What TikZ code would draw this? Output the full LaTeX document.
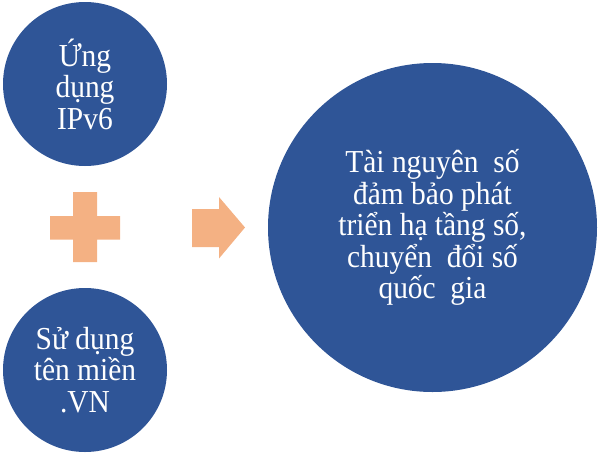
\documentclass[tikz,border=0pt]{standalone}
\usepackage{fontspec}
\setmainfont{Liberation Serif}[FakeStretch=0.92]
\definecolor{cblue}{HTML}{2F5597}
\definecolor{corange}{HTML}{F4B183}
\begin{document}
\begin{tikzpicture}[x=1pt,y=-1pt,
  bubble/.style={circle,fill=cblue,text=white,inner sep=0pt,align=center,
    font=\fontsize{32}{31.5}\selectfont},
  shapefill/.style={fill=corange,draw=none}]
\useasboundingbox (0,0) rectangle (600,456);
\node[bubble,minimum size=164pt] (ipv6) at (85,84) {Ứng\\dụng\\IPv6};
\node[bubble,minimum size=164pt] (vn) at (85,370) {Sử dụng\\tên miền\\.VN};
\node[bubble,minimum size=329pt] (res) at (432.5,227.5) {Tài nguyên \ số\\đảm bảo phát\\triển hạ tầng số,\\chuyển \ đổi số\\quốc \ gia};
% plus
\fill[shapefill] (73,192) -- (97,192) -- (97,216) -- (120,216) -- (120,239.5) -- (97,239.5)
  -- (97,262) -- (73,262) -- (73,239.5) -- (50,239.5) -- (50,216) -- (73,216) -- cycle;
% arrow
\fill[shapefill] (192,209) -- (219,209) -- (219,197) -- (245,227.5) -- (219,258.5)
  -- (219,247) -- (192,247) -- cycle;
\end{tikzpicture}
\end{document}
